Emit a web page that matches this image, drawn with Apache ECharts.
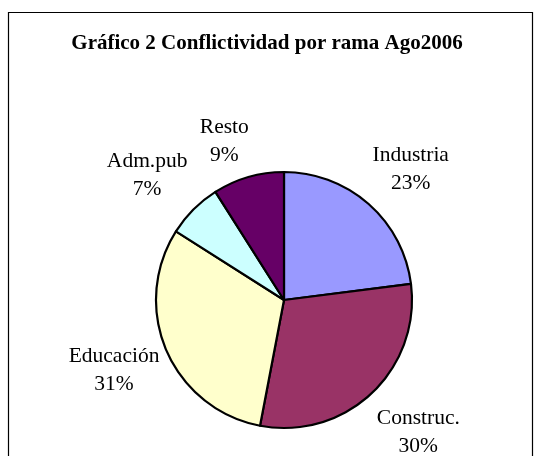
<!DOCTYPE html>
<html>
<head>
<meta charset="utf-8">
<script src="https://cdn.jsdelivr.net/npm/echarts@6/dist/echarts.min.js"></script>
<style>
html,body{margin:0;padding:0;background:#fff;}
#chart{width:534px;height:456px;}
</style>
</head>
<body>
<div id="chart"></div>
<script>
var titleText = 'Gráfico 2 Conflictividad por rama Ago2006';
var categories = ['Industria', 'Construc.', 'Educación', 'Adm.pub', 'Resto'];
var values = [23, 30, 31, 7, 9];
var colors = ['#9999FF', '#993366', '#FFFFCC', '#CCFFFF', '#660066'];
var labelLengths = [56, 58, 55, 57, 43];
var labelDx = [5, 7, -2, -6, -12];
var labelDy = [7, -3, -2, 6, 6];

var FONT = "'Liberation Serif', 'Times New Roman', serif";
var chart = echarts.init(document.getElementById('chart'), null, {renderer: 'canvas'});

var data = categories.map(function (c, i) {
  return {
    name: c,
    value: values[i],
    itemStyle: {color: colors[i]},
    labelLine: {length: labelLengths[i], length2: 0}
  };
});

chart.setOption({
  animation: false,
  backgroundColor: '#fff',
  textStyle: {fontFamily: FONT},
  graphic: [{
    type: 'rect',
    shape: {x: 8.5, y: 12.5, width: 524, height: 470},
    style: {fill: 'none', stroke: '#000', lineWidth: 1.2},
    silent: true
  }],
  title: {
    text: titleText,
    left: 'center',
    top: 28,
    textStyle: {fontFamily: FONT, fontSize: 21, fontWeight: 'bold', color: '#000'}
  },
  series: [{
    type: 'pie',
    center: [284, 300],
    radius: 128,
    startAngle: 90,
    clockwise: true,
    avoidLabelOverlap: false,
    percentPrecision: 0,
    itemStyle: {borderColor: '#000', borderWidth: 2.2},
    label: {
      show: true,
      position: 'outside',
      formatter: '{b}\n{d}%',
      fontFamily: FONT,
      fontSize: 21.5,
      lineHeight: 28,
      color: '#000',
      distanceToLabelLine: 0
    },
    labelLine: {show: false, length: 56, length2: 0},
    labelLayout: function (p) {
      return {align: 'center', verticalAlign: 'middle', dx: labelDx[p.dataIndex], dy: labelDy[p.dataIndex]};
    },
    emphasis: {disabled: true},
    data: data
  }]
});
</script>
</body>
</html>
